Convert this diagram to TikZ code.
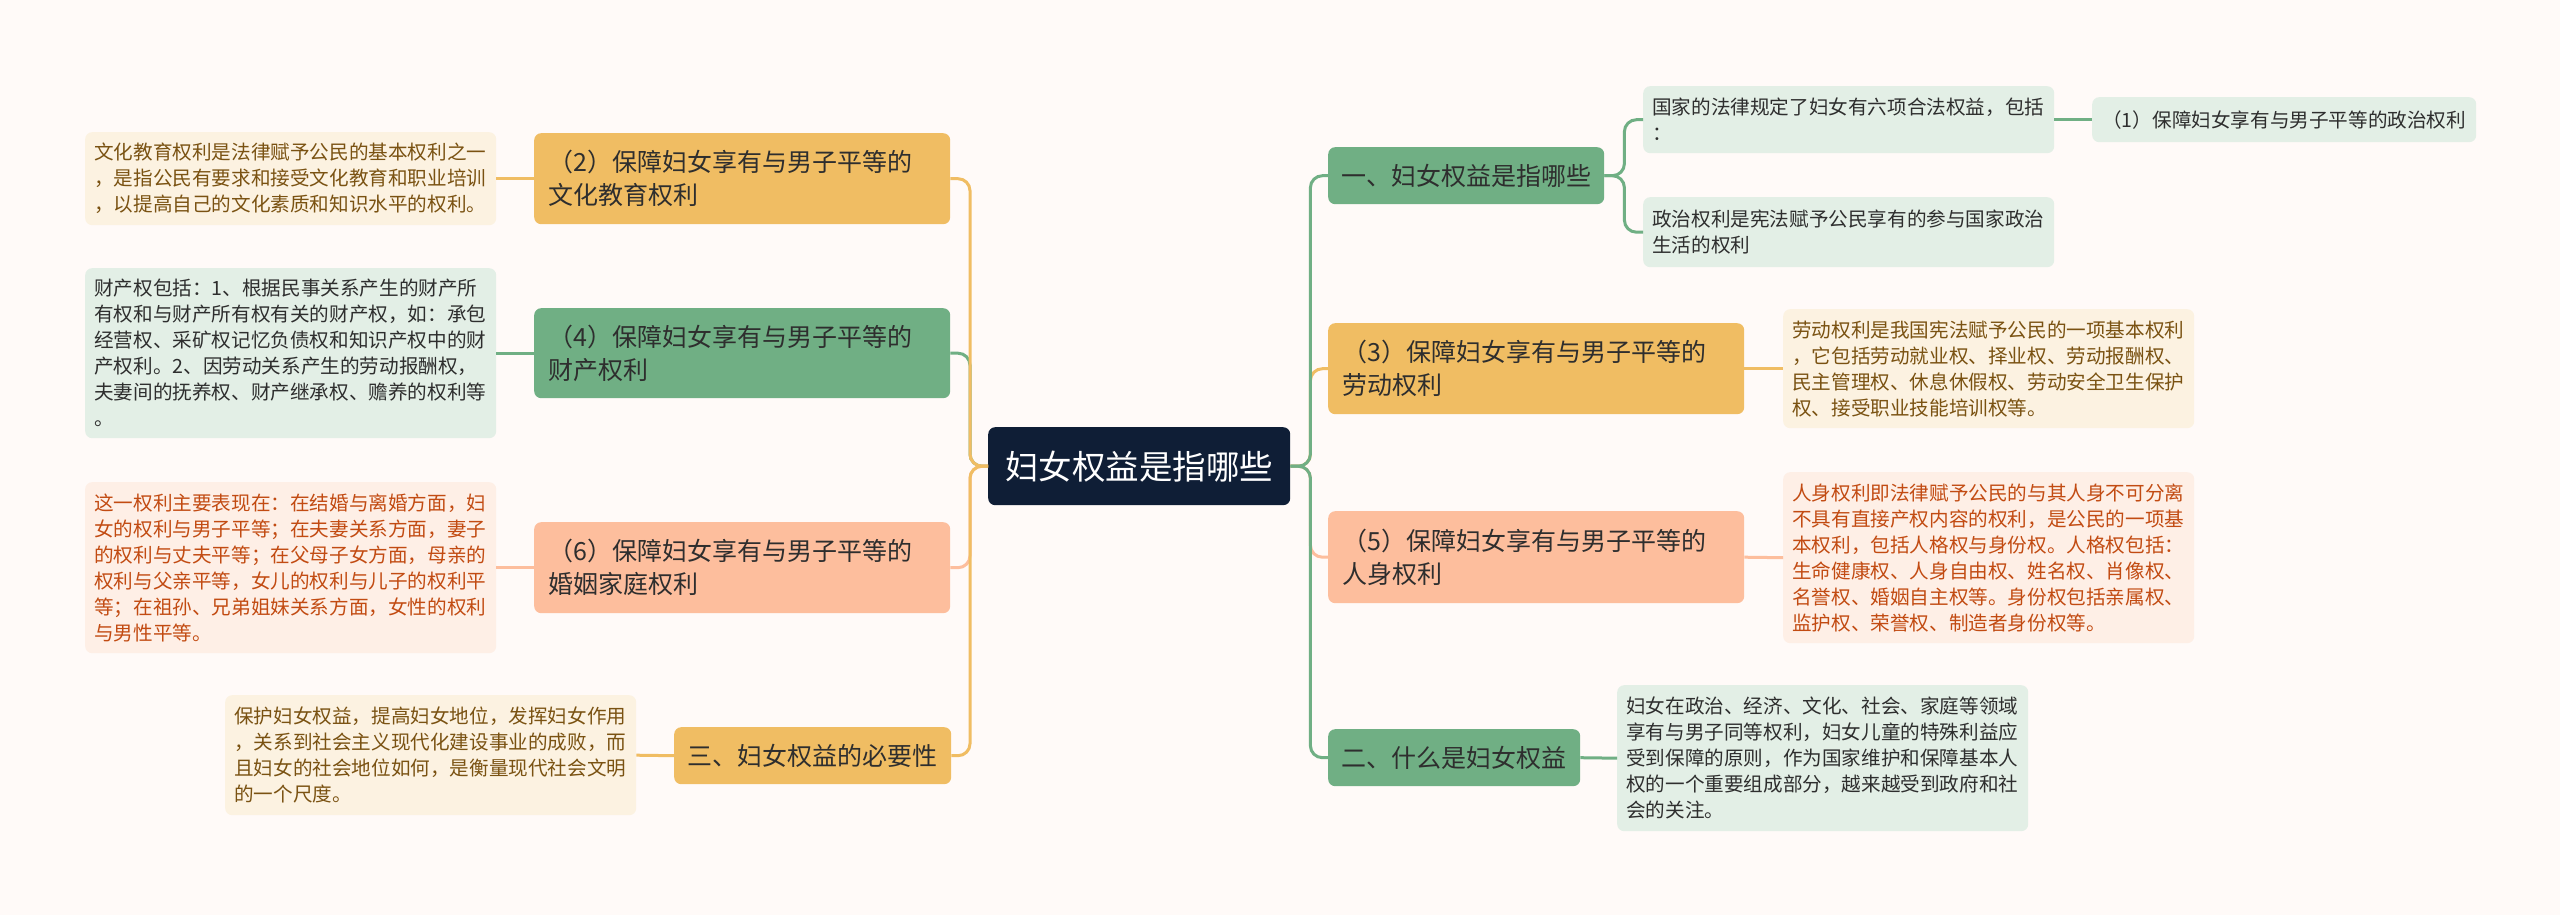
\documentclass[tikz,border=0pt]{standalone}
\usepackage{fontspec}
\setmainfont{Noto Sans CJK SC}
\definecolor{bg}{HTML}{FFFAF8}
\definecolor{orn}{HTML}{F0BD63}
\definecolor{grn}{HTML}{70AF84}
\definecolor{sal}{HTML}{FDBE9D}
\definecolor{navy}{HTML}{0F1E36}
\definecolor{creambg}{HTML}{FCF2E1}
\definecolor{greenbg}{HTML}{E3EFE6}
\definecolor{peachbg}{HTML}{FEEFE6}
\definecolor{browntx}{HTML}{7A5212}
\definecolor{redtx}{HTML}{C24B12}
\definecolor{darktx}{HTML}{2E2E2E}
\tikzset{
  boxbase/.style={rounded corners=7pt, inner ysep=0pt, anchor=north west},
  twoline/.style={boxbase, inner xsep=14pt, text width=388pt, align=left,
    font=\fontsize{25}{33}\selectfont, text=darktx, minimum height=#1},
  oneline/.style={boxbase, inner xsep=0pt, align=center,
    font=\fontsize{25}{33}\selectfont, text=darktx, minimum height=57pt},
  textbox/.style={boxbase, inner xsep=9pt, text width=393pt, align=left,
    font=\fontsize{19.6}{26}\selectfont, minimum height=#1},
  conn/.style={line width=3pt, rounded corners=12pt},
  link/.style={line width=3pt}
}
\begin{document}
\begin{tikzpicture}[x=1pt,y=-1pt]
\fill[bg] (0,0) rectangle (2560,915);
\useasboundingbox (0,0) rectangle (2560,915);

% central
\node[boxbase, fill=navy, text=white, inner xsep=0pt, minimum width=302pt, minimum height=78pt,
  font=\fontsize{33.5}{40}\selectfont] (C) at (988,427) {妇女权益是指哪些};

% left side
\node[twoline=91pt, fill=orn] (N2) at (534,133) {（2）保障妇女享有与男子平等的\\文化教育权利};
\node[textbox=93pt, fill=creambg, text=browntx] (T2) at (85,132) {文化教育权利是法律赋予公民的基本权利之一\\，是指公民有要求和接受文化教育和职业培训\\，以提高自己的文化素质和知识水平的权利。};

\node[twoline=90pt, fill=grn] (N4) at (534,308) {（4）保障妇女享有与男子平等的\\财产权利};
\node[textbox=170pt, fill=greenbg, text=darktx] (T4) at (85,268) {财产权包括：1、根据民事关系产生的财产所\\有权和与财产所有权有关的财产权，如：承包\\经营权、采矿权记忆负债权和知识产权中的财\\产权利。2、因劳动关系产生的劳动报酬权，\\夫妻间的抚养权、财产继承权、赡养的权利等\\。};

\node[twoline=91pt, fill=sal] (N6) at (534,522) {（6）保障妇女享有与男子平等的\\婚姻家庭权利};
\node[textbox=171pt, fill=peachbg, text=redtx] (T6) at (85,482) {这一权利主要表现在：在结婚与离婚方面，妇\\女的权利与男子平等；在夫妻关系方面，妻子\\的权利与丈夫平等；在父母子女方面，母亲的\\权利与父亲平等，女儿的权利与儿子的权利平\\等；在祖孙、兄弟姐妹关系方面，女性的权利\\与男性平等。};

\node[oneline, fill=orn, minimum width=277pt] (N3) at (674,727) {三、妇女权益的必要性};
\node[textbox=120pt, fill=creambg, text=browntx] (T3) at (225,695) {保护妇女权益，提高妇女地位，发挥妇女作用\\，关系到社会主义现代化建设事业的成败，而\\且妇女的社会地位如何，是衡量现代社会文明\\的一个尺度。};

% right side
\node[oneline, fill=grn, minimum width=276pt] (H1) at (1328,147) {一、妇女权益是指哪些};
\node[textbox=67pt, fill=greenbg, text=darktx] (TA) at (1643,86) {国家的法律规定了妇女有六项合法权益，包括\\：};
\node[boxbase, fill=greenbg, text=darktx, inner xsep=0pt, minimum width=384pt, minimum height=45pt,
  font=\fontsize{19.6}{26}\selectfont] (P1) at (2092,97) {（1）保障妇女享有与男子平等的政治权利};
\node[textbox=70pt, fill=greenbg, text=darktx] (TB) at (1643,197) {政治权利是宪法赋予公民享有的参与国家政治\\生活的权利};

\node[twoline=91pt, fill=orn] (N3r) at (1328,323) {（3）保障妇女享有与男子平等的\\劳动权利};
\node[textbox=119pt, fill=creambg, text=browntx] (TL) at (1783,309) {劳动权利是我国宪法赋予公民的一项基本权利\\，它包括劳动就业权、择业权、劳动报酬权、\\民主管理权、休息休假权、劳动安全卫生保护\\权、接受职业技能培训权等。};

\node[twoline=92pt, fill=sal] (N5) at (1328,511) {（5）保障妇女享有与男子平等的\\人身权利};
\node[textbox=171pt, fill=peachbg, text=redtx] (TP) at (1783,472) {人身权利即法律赋予公民的与其人身不可分离\\不具有直接产权内容的权利，是公民的一项基\\本权利，包括人格权与身份权。人格权包括：\\生命健康权、人身自由权、姓名权、肖像权、\\名誉权、婚姻自主权等。身份权包括亲属权、\\监护权、荣誉权、制造者身份权等。};

\node[oneline, fill=grn, minimum width=252pt] (H2) at (1328,729) {二、什么是妇女权益};
\node[textbox=146pt, fill=greenbg, text=darktx] (TW) at (1617,685) {妇女在政治、经济、文化、社会、家庭等领域\\享有与男子同等权利，妇女儿童的特殊利益应\\受到保障的原则，作为国家维护和保障基本人\\权的一个重要组成部分，越来越受到政府和社\\会的关注。};

% connectors left
\draw[conn, grn] (C.west) -- ++(-18,0) |- (N4.east);
\draw[conn, sal] (C.west) -- ++(-18,0) |- (N6.east);
\draw[conn, orn] (C.west) -- ++(-18,0) |- (N2.east);
\draw[conn, orn] (C.west) -- ++(-18,0) |- (N3.east);
% connectors right
\draw[conn, orn] (C.east) -- ++(20,0) |- (N3r.west);
\draw[conn, sal] (C.east) -- ++(20,0) |- (N5.west);
\draw[conn, grn] (C.east) -- ++(20,0) |- (H1.west);
\draw[conn, grn] (C.east) -- ++(20,0) |- (H2.west);
% sub connectors
\draw[conn, grn] (H1.east) -- ++(20,0) |- (TA.west);
\draw[conn, grn] (H1.east) -- ++(20,0) |- (TB.west);
\draw[link, grn] (TA.east) -- (P1.west);
\draw[link, orn] (N2.west) -- (T2.east);
\draw[link, grn] (N4.west) -- (T4.east);
\draw[link, sal] (N6.west) -- (T6.east);
\draw[link, orn] (N3.west) -- (T3.east);
\draw[link, orn] (N3r.east) -- (TL.west);
\draw[link, sal] (N5.east) -- (TP.west);
\draw[link, grn] (H2.east) -- (TW.west);
\end{tikzpicture}
\end{document}
